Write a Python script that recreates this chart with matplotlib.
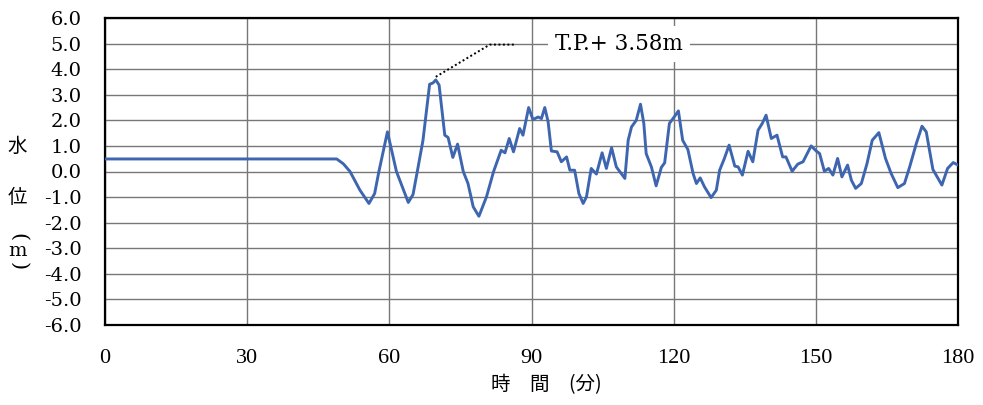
import numpy as np
import matplotlib
matplotlib.use("Agg")
import matplotlib.pyplot as plt

# time (minutes) and water level (m)
times = [0, 48.9, 50.3, 51.7, 53.8, 55.7, 56.9, 57.8, 59.6, 61.5, 64.0, 65.0, 65.9,
         67.1, 68.5, 69.2, 69.8, 70.5, 71.7, 72.4, 73.4, 74.4, 75.6, 76.6, 77.7,
         78.9, 80.5, 82.0, 83.6, 84.4, 85.3, 86.2, 87.5, 88.2, 89.4, 90.3, 91.4,
         92.1, 92.8, 93.5, 94.2, 95.4, 96.3, 97.4, 98.1, 99.1, 100.0, 100.9, 101.6,
         102.6, 103.7, 104.9, 105.8, 106.9, 107.9, 109.7, 110.4, 111.1, 112.1, 113.0,
         113.7, 114.2, 115.3, 116.3, 117.4, 118.1, 119.1, 120.1, 121.0, 121.9, 123.0,
         124.1, 124.8, 125.6, 126.5, 127.9, 129.0, 129.7, 130.7, 131.7, 132.9, 133.6,
         134.5, 135.7, 136.7, 137.8, 138.7, 139.5, 140.6, 141.8, 143.0, 143.7, 145.0,
         146.2, 147.3, 149.0, 150.1, 150.8, 151.8, 152.7, 153.6, 154.6, 155.5, 156.7,
         157.5, 158.4, 159.6, 160.8, 161.9, 163.3, 164.7, 165.9, 167.3, 168.7, 169.8,
         171.2, 172.4, 173.3, 174.7, 176.6, 177.8, 179.0, 180.0]
levels = [0.49, 0.49, 0.30, 0.0, -0.73, -1.25, -0.86, 0.0, 1.55, 0.0, -1.21, -0.9, 0.0,
          1.22, 3.41, 3.46, 3.58, 3.38, 1.42, 1.33, 0.55, 1.07, 0.0, -0.47, -1.38,
          -1.75, -0.99, 0.0, 0.83, 0.73, 1.29, 0.77, 1.68, 1.42, 2.50, 2.03, 2.13,
          2.07, 2.50, 1.95, 0.80, 0.77, 0.38, 0.57, 0.05, 0.05, -0.86, -1.25, -0.99,
          0.12, -0.10, 0.73, 0.12, 0.93, 0.18, -0.27, 1.22, 1.74, 2.0, 2.63,
          1.88, 0.70, 0.18, -0.56, 0.16, 0.34, 1.88, 2.13, 2.37, 1.22, 0.86,
          -0.08, -0.47, -0.25, -0.60, -1.02, -0.73, 0.05, 0.51, 1.03, 0.21, 0.18,
          -0.14, 0.79, 0.38, 1.61, 1.88, 2.20, 1.29, 1.42, 0.57, 0.57, 0.01,
          0.29, 0.38, 1.0, 0.80, 0.70, 0.01, 0.12, -0.14, 0.51, -0.21, 0.25,
          -0.34, -0.66, -0.47, 0.31, 1.22, 1.52, 0.51, -0.08, -0.63, -0.47, 0.18,
          1.09, 1.77, 1.55, 0.08, -0.53, 0.12, 0.35, 0.25]

xticks = [0, 30, 60, 90, 120, 150, 180]
yticks = [-6, -5, -4, -3, -2, -1, 0, 1, 2, 3, 4, 5, 6]

W, H = 983, 405
fig = plt.figure(figsize=(W / 100, H / 100), dpi=100)
ax = fig.add_axes([105 / W, 1 - 325 / H, (958 - 105) / W, (325 - 18) / H])

ax.plot(times, levels, color="#3e66b0", lw=2.1, zorder=3,
        solid_joinstyle="round", solid_capstyle="round")

ax.set_xlim(0, 180)
ax.set_ylim(-6, 6)
ax.set_xticks(xticks)
ax.set_yticks(yticks)
ax.set_yticklabels([f"{v:.1f}" for v in yticks], family="DejaVu Serif", fontsize=14)
ax.set_xticklabels([str(v) for v in xticks], family="Liberation Serif", fontsize=16)
ax.tick_params(axis="both", length=0)
ax.tick_params(axis="y", pad=17)
ax.tick_params(axis="x", pad=17)
ax.grid(True, color="#777777", lw=1.0, zorder=1)
ax.set_axisbelow(True)
for s in ax.spines.values():
    s.set_linewidth(1.6)
    s.set_color("black")

# peak annotation with dotted leader
ipk = int(np.argmax(levels))
pk_t, pk_v = times[ipk], levels[ipk]
ax.plot([pk_t, 81.2, 86.5], [pk_v + 0.12, 4.96, 4.96], color="black",
        lw=1.4, ls=(0, (1, 1.3)), zorder=4)
ax.text(108.5, 4.98, f"T.P.+ {pk_v:.2f}m", family="DejaVu Serif", fontsize=15.5,
        ha="center", va="center", zorder=5,
        bbox=dict(facecolor="white", edgecolor="none", pad=5))

# y label, stacked vertically (parentheses turned for vertical writing)
cjk = ["Noto Sans CJK JP", "DejaVu Sans"]
fig.text(17 / W, 1 - 146 / H, "水", family=cjk, fontsize=14, ha="center", va="center")
fig.text(17 / W, 1 - 197 / H, "位", family=cjk, fontsize=14, ha="center", va="center")
fig.text(18 / W, 1 - 237 / H, "(", family="DejaVu Serif", fontsize=15, rotation=-90,
         ha="center", va="center")
fig.text(18 / W, 1 - 251 / H, "m", family="DejaVu Serif", fontsize=14,
         ha="center", va="center")
fig.text(18 / W, 1 - 266 / H, ")", family="DejaVu Serif", fontsize=15, rotation=-90,
         ha="center", va="center")

fig.text(546 / W, 1 - 385 / H, "時　間　(分)", family=cjk, fontsize=14,
         ha="center", va="center")

fig.savefig("out.png", dpi=100)
